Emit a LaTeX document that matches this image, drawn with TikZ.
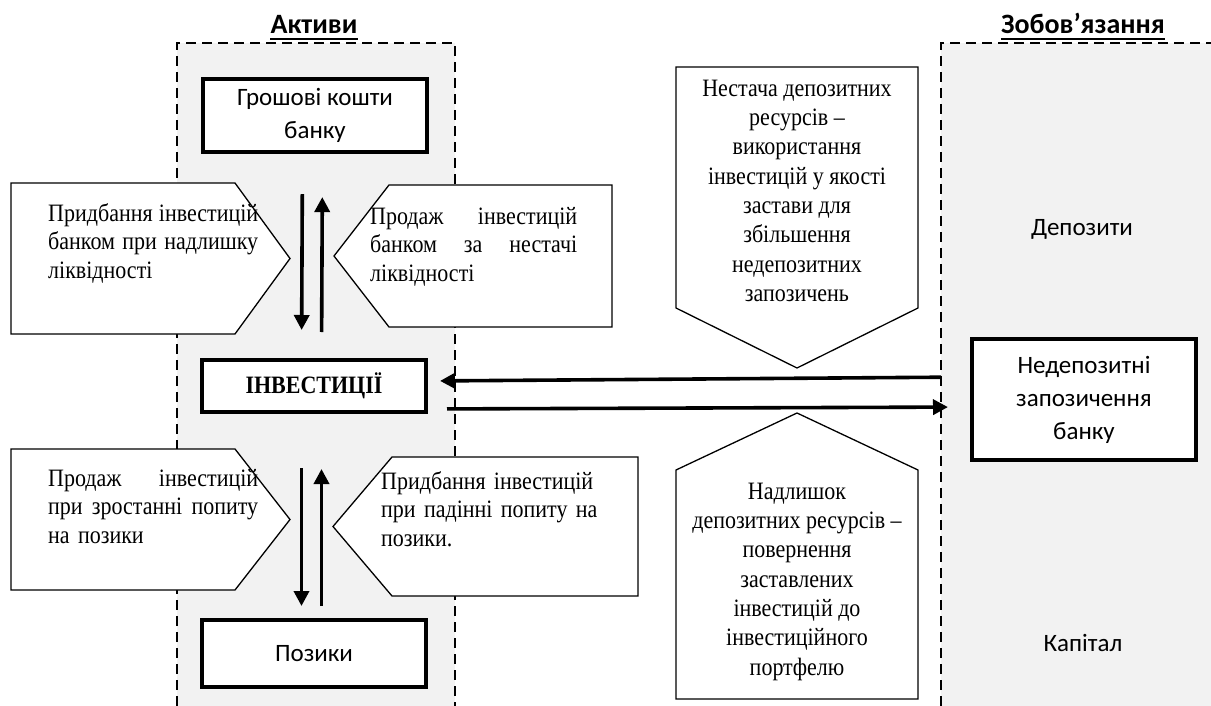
\documentclass[tikz,border=0pt]{standalone}
\usepackage{fontspec}
\newfontfamily\tmsfont[FakeStretch=0.88]{Liberation Serif}
\newfontfamily\clbfont{Carlito}
\usetikzlibrary{arrows.meta,positioning}
\definecolor{panelgray}{HTML}{F2F2F2}

\begin{document}
\begin{tikzpicture}[x=1pt,y=-1pt]
%% styles
\tikzstyle{panel}=[fill=panelgray,draw=none]
\tikzstyle{border}=[line width=2.7pt,dash pattern=on 10pt off 6pt]
\tikzstyle{sbox}=[rectangle,draw=black,fill=white,line width=4pt,minimum width=224pt,inner sep=2pt,align=center,font=\clbfont\fontsize{25}{33}\selectfont]
\tikzstyle{slabel}=[inner sep=0pt,align=center,font=\clbfont\fontsize{25}{33}\selectfont]
\tikzstyle{title}=[inner sep=0pt,anchor=base,font=\clbfont\bfseries\fontsize{28}{30}\selectfont]
\tikzstyle{pent}=[draw=black,fill=white,line width=1.3pt,line join=miter]
\tikzstyle{ptext}=[inner sep=0pt,text width=210pt,align=left,anchor=north west,font=\tmsfont\fontsize{25}{28.5}\selectfont]
\tikzstyle{ctext}=[inner sep=0pt,align=center,anchor=north,font=\tmsfont\fontsize{25}{29.3}\selectfont]
\tikzstyle{flow}=[-{Triangle[length=15pt,width=15pt]},line width=3.6pt]

\useasboundingbox (0,0) rectangle (1211,706);

%% panels
\fill[panel] (177,43) rectangle (455,706);
\fill[panel] (941,43) rectangle (1211,706);
\draw[border] (177,706) -- (177,43) -- (455,43) -- (455,706);
\draw[border] (941,706) -- (941,43) -- (1211,43);

% titles
\node[title] (assets) at (314,33.5) {Активи};
\node[title] (liabs) at (1083,33.5) {Зобов’язання};
\foreach \t in {assets,liabs}
\draw[line width=2.3pt] ([yshift=-5.5pt]\t.base west) -- ([yshift=-5.5pt]\t.base east);

%% pentagons
% liquidity
\draw[pent] (11,183) -- (235,183) -- (290,258.5) -- (235,334) -- (11,334) -- cycle;
\draw[pent] (612,185) -- (389,185) -- (334,256) -- (389,327) -- (612,327) -- cycle;
% loan demand
\draw[pent] (11,449) -- (235,449) -- (290,519.5) -- (235,590) -- (11,590) -- cycle;
\draw[pent] (638,457) -- (392,457) -- (333,526.5) -- (392,596) -- (638,596) -- cycle;
% deposit resources
\draw[pent] (676,67) -- (918,67) -- (918,308) -- (797,368) -- (676,308) -- cycle;
\draw[pent] (676,699) -- (918,699) -- (918,470) -- (797,413) -- (676,470) -- cycle;

% pentagon texts
\node[ptext] (buyliq) at (48,201) {\strut Придбання\hfill інвестицій\\банком\hfill при\hfill надлишку\\ліквідності};
\node[ptext,text width=207pt] (sellliq) at (370,204) {\strut Продаж\hfill інвестицій\\банком\hfill за\hfill нестачі\\ліквідності};
\node[ptext] (sellloan) at (48,466) {\strut Продаж\hfill інвестицій\\при\hfill зростанні\hfill попиту\\на позики};
\node[ptext,text width=240pt] (buyloan) at (381,469) {\strut Придбання інвестицій\\при падінні попиту на\\позики.};
\node[ctext] (shortage) at (797,75.5) {\strut Нестача депозитних\\ресурсів –\\використання\\інвестицій у якості\\застави для\\збільшення\\недепозитних\\запозичень};
\node[ctext] (surplus) at (797,478.5) {\strut Надлишок\\депозитних ресурсів –\\повернення\\заставлених\\інвестицій до\\інвестиційного\\портфелю};

%% boxes
\node[sbox,minimum height=72.7pt] (cash) at (315,115.7) {Грошові кошти\\банку};
\node[sbox,minimum height=52pt,font=\tmsfont\bfseries\fontsize{25}{28}\selectfont] (inv) at (314,386) {ІНВЕСТИЦІЇ};
\node[sbox,minimum height=67pt] (loans) at (314,653.5) {Позики};
\node[sbox,minimum height=121pt] (borrow) at (1084,399.5) {Недепозитні\\запозичення\\банку};
\node[slabel] (dep) at (1082,229) {Депозити};
\node[slabel] (cap) at (1083,643) {Капітал};

%% arrows
% cash and investments
\draw[flow,shorten <=40pt,shorten >=28pt] ([xshift=-12.5pt]cash.south) -- ([xshift=-12.5pt]inv.north);
\draw[flow,shorten <=26pt,shorten >=43pt] ([xshift=7.5pt]inv.north) -- ([xshift=7.5pt]cash.south);
% investments and loans
\draw[flow,shorten <=54pt,shorten >=12pt] ([xshift=-12.5pt]inv.south) -- ([xshift=-12.5pt]loans.north);
\draw[flow,shorten <=12pt,shorten >=55pt] ([xshift=7.5pt]loans.north) -- ([xshift=7.5pt]inv.south);
% borrowings
\draw[flow,shorten <=29pt,shorten >=12pt] ([yshift=22.5pt]borrow.west) -- ([yshift=5pt]inv.east);
\draw[flow,shorten <=19pt,shorten >=22pt] ([yshift=-23pt]inv.east) -- ([yshift=-7.5pt]borrow.west);
\end{tikzpicture}
\end{document}
